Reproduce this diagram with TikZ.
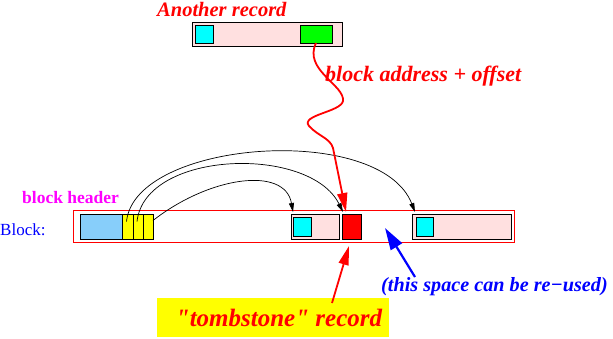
\documentclass[tikz,border=0pt]{standalone}
\usepackage{fontspec}
\setmainfont{Liberation Serif}
\newfontfamily\plainserif{Liberation Serif}[Ligatures=TeXOff]
\usetikzlibrary{arrows.meta,calc}
\definecolor{pinkbg}{RGB}{255,224,224}
\definecolor{hdrblue}{RGB}{135,206,250}
\definecolor{cyanc}{RGB}{0,255,255}
\definecolor{greenc}{RGB}{0,255,0}
\definecolor{yellowc}{RGB}{255,255,0}
\definecolor{redc}{RGB}{255,0,0}
\definecolor{bluec}{RGB}{0,0,255}
\definecolor{magc}{RGB}{255,0,255}
\begin{document}
\begin{tikzpicture}[x=1pt,y=-1pt,
  cell/.style={draw=black, line width=0.8pt, inner sep=0pt, outer sep=0pt, anchor=north west},
  lbl/.style={inner sep=0pt, anchor=west},
  ptr/.style={black, line width=0.7pt, -{Triangle[length=9pt,width=5pt]}},
  bigred/.style={redc, line width=1.8pt, -{Triangle[length=19pt,width=10pt]}}
]
\useasboundingbox (0,0) rectangle (613,338);

% Another record
\node[lbl, text=redc, font=\fontsize{20.5}{20.5}\selectfont\bfseries\itshape] (antxt) at (157,9) {Another record};
\node[cell, fill=pinkbg, minimum width=150pt, minimum height=24pt] (arec) at (192,22) {};
\node[cell, fill=cyanc, minimum width=18pt, minimum height=18pt] (acyan) at (195,25) {};
\node[cell, fill=greenc, minimum width=32pt, minimum height=18pt] (agreen) at (300,25) {};

% block
\node[lbl, text=magc, font=\fontsize{17.5}{17.5}\selectfont\bfseries] (bh) at (22,198) {block header};
\node[lbl, text=bluec, font=\fontsize{17}{17}\selectfont] (bl) at (0,230) {Block:};
\node[cell, draw=redc, minimum width=441pt, minimum height=32pt] (blk) at (73,210) {};
\node[cell, fill=hdrblue, minimum width=42pt, minimum height=25pt] (hdr) at (80,214) {};
\node[cell, fill=yellowc, minimum width=11pt, minimum height=25pt] (c1) at (122,214) {};
\node[cell, fill=yellowc, minimum width=10pt, minimum height=25pt] (c2) at (133,214) {};
\node[cell, fill=yellowc, minimum width=10pt, minimum height=25pt] (c3) at (143,214) {};

\node[cell, fill=pinkbg, minimum width=48pt, minimum height=25pt] (r1) at (291,214) {};
\node[cell, fill=cyanc, minimum width=18pt, minimum height=19pt] (r1c) at (293,217) {};
\node[cell, fill=redc, minimum width=19pt, minimum height=25pt] (tomb) at (342,214) {};
\node[cell, fill=pinkbg, minimum width=99pt, minimum height=25pt] (r3) at (412,214) {};
\node[cell, fill=cyanc, minimum width=17pt, minimum height=19pt] (r3c) at (416,217) {};

% pointers from header slots
\draw[ptr] ($(c1.center)+(-1,-5)$) .. controls (135,140) and (380,122) .. ($(r3.north west)+(3,-2)$);
\draw[ptr] ($(c2.center)+(-1,-5)$) .. controls (145,150) and (310,145) .. ($(tomb.north west)+(1,-2)$);
\draw[ptr] ($(c3.east)+(0,-6)$) .. controls (210,176) and (285,166) .. ($(r1.north west)+(2,-2)$);

% wavy red pointer
\coordinate (wtip) at (346,212);
\draw[bigred] (agreen.south) .. controls (303,70) and (345,85) .. (343,101)
  .. controls (341,112) and (300,115) .. (309,126)
  .. controls (318,136) and (330,138) .. (333,148) -- (wtip);
\node[lbl, text=redc, font=\fontsize{22}{22}\selectfont\bfseries\itshape] (addr) at (325,76) {block address + offset};

% tombstone label
\node[fill=yellowc, minimum width=232pt, minimum height=39pt, inner sep=0pt, anchor=north west] (ybox) at (157,298) {};
\node[text=redc, inner sep=0pt, font=\fontsize{25}{25}\plainserif\bfseries\itshape] (ttxt) at (279,318) {"tombstone" record};
\coordinate (ttail) at (332,303);
\coordinate (ttip) at (349,246);
\draw[bigred] (ttail) -- (ttip);

% reuse label
\coordinate (btail) at (415,277);
\coordinate (btip) at (385,228);
\draw[bluec, line width=2.2pt, -{Triangle[length=22pt,width=13pt]}] (btail) -- (btip);
\node[lbl, text=bluec, font=\fontsize{20.2}{20.2}\selectfont\bfseries\itshape] (reuse) at (381,287) {(this space can be re−used)};
\end{tikzpicture}
\end{document}
